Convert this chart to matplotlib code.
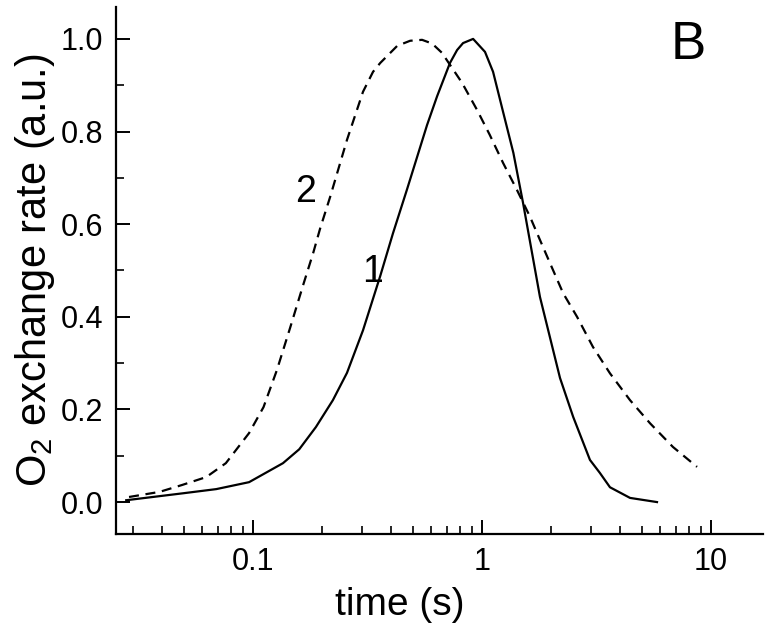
import numpy as np
import matplotlib.pyplot as plt
from matplotlib.ticker import LogLocator, MultipleLocator, FixedLocator, FixedFormatter

plt.rcParams['font.family'] = ['Liberation Sans', 'DejaVu Sans']
plt.rcParams['mathtext.default'] = 'regular'

# curve 1 (solid)
t1 = [0.0279, 0.0494, 0.069, 0.096, 0.135, 0.159, 0.188, 0.223, 0.257, 0.302,
      0.359, 0.408, 0.470, 0.575, 0.636, 0.724, 0.778, 0.826, 0.914, 1.03,
      1.117, 1.236, 1.37, 1.51, 1.79, 2.19, 2.50, 2.96, 3.27, 3.62, 4.43, 5.81]
y1 = [0.004, 0.019, 0.028, 0.043, 0.084, 0.114, 0.162, 0.22, 0.279, 0.371,
      0.488, 0.58, 0.675, 0.814, 0.876, 0.948, 0.976, 0.991, 1.0, 0.972,
      0.929, 0.842, 0.754, 0.646, 0.443, 0.268, 0.184, 0.091, 0.063, 0.032, 0.009, 0.0]

# curve 2 (dashed)
t2 = [0.0287, 0.039, 0.049, 0.0624, 0.076, 0.096, 0.111, 0.127, 0.145, 0.165,
      0.183, 0.196, 0.217, 0.257, 0.302, 0.334, 0.359, 0.426, 0.485, 0.547,
      0.605, 0.668, 0.818, 0.95, 1.08, 1.236, 1.42, 1.62, 1.79, 1.98, 2.26,
      2.60, 3.05, 3.62, 4.43, 5.42, 6.82, 8.69]
y2 = [0.011, 0.022, 0.037, 0.054, 0.084, 0.149, 0.205, 0.285, 0.376, 0.467,
      0.538, 0.59, 0.659, 0.782, 0.886, 0.929, 0.948, 0.985, 0.996, 0.998,
      0.99, 0.97, 0.905, 0.847, 0.793, 0.732, 0.674, 0.616, 0.566, 0.516, 0.451,
      0.40, 0.335, 0.278, 0.22, 0.17, 0.119, 0.076]

fig = plt.figure(figsize=(7.74, 6.32), dpi=100)
ax = fig.add_axes([0.150, 0.155, 0.836, 0.834])

ax.plot(t1, y1, color='black', lw=1.6)
ax.plot(t2, y2, color='black', lw=1.6, dashes=(4.5, 3))

ax.set_xscale('log')
ax.set_xlim(0.0252, 16.9)
ax.set_ylim(-0.069, 1.069)

ax.xaxis.set_major_locator(FixedLocator([0.1, 1, 10]))
ax.xaxis.set_major_formatter(FixedFormatter(['0.1', '1', '10']))
ax.xaxis.set_minor_locator(LogLocator(base=10, subs=np.arange(2, 10)))
ax.xaxis.set_minor_formatter(plt.NullFormatter())
ax.yaxis.set_major_locator(MultipleLocator(0.2))
ax.yaxis.set_minor_locator(MultipleLocator(0.1))
ax.yaxis.set_major_formatter(plt.FuncFormatter(lambda v, p: '%.1f' % v))

for s in ['top', 'right']:
    ax.spines[s].set_visible(False)
for s in ['left', 'bottom']:
    ax.spines[s].set_linewidth(1.6)

ax.tick_params(which='major', direction='in', length=10, width=1.4, labelsize=22, pad=9)
ax.tick_params(which='minor', direction='in', length=6, width=1.2)

ax.set_xlabel('time (s)', fontsize=28)
ax.xaxis.set_label_coords(0.439, -0.10, transform=ax.transAxes)
ax.xaxis.label.set_va('top')
ax.set_ylabel('O$_2$ exchange rate (a.u.)', fontsize=30, labelpad=3)

ax.text(0.169, 0.67, '2', fontsize=27, ha='center', va='center')
ax.text(0.331, 0.497, '1', fontsize=27, ha='center', va='center')
ax.text(7.95, 0.987, 'B', fontsize=38, ha='center', va='center')

fig.savefig('out.png', dpi=100)
